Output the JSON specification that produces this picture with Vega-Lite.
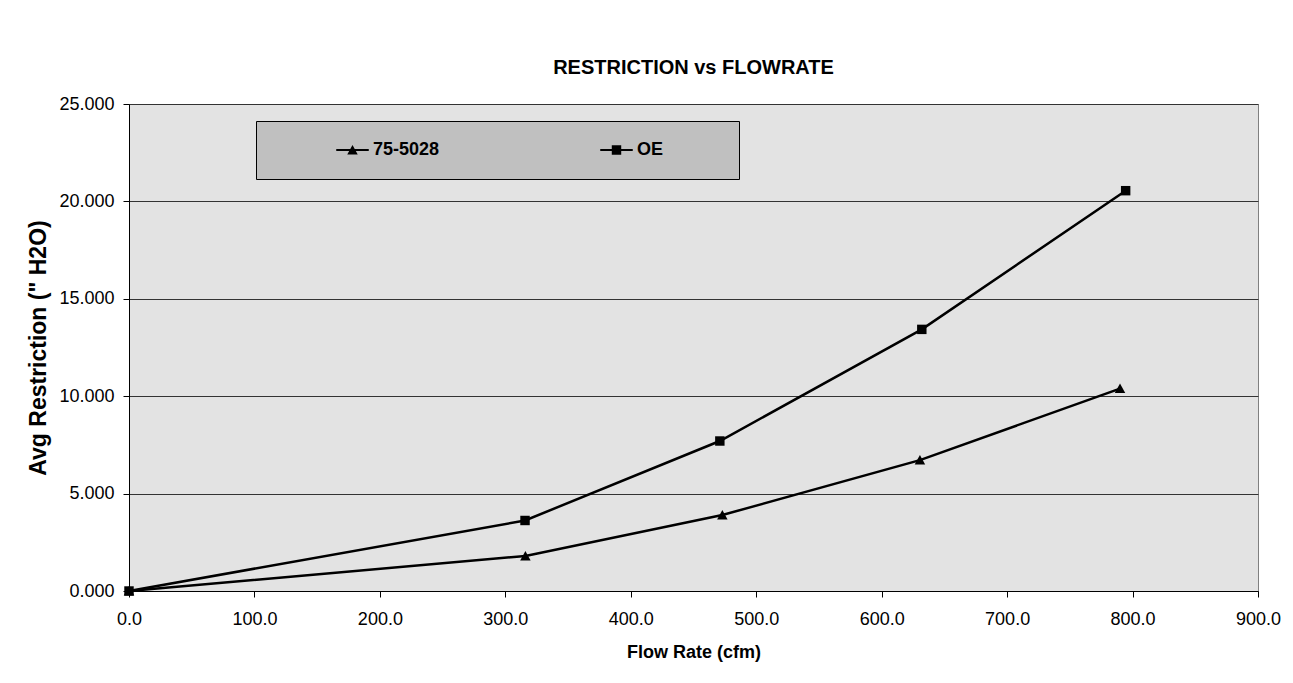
{
  "$schema": "https://vega.github.io/schema/vega-lite/v6.json",
  "width": 1129,
  "height": 487,
  "autosize": {"type": "none"},
  "padding": {"left": 129, "top": 104, "right": 35, "bottom": 92},
  "background": "white",
  "title": {"text": "RESTRICTION vs FLOWRATE", "font": "Liberation Sans", "fontSize": 20, "fontWeight": "bold", "anchor": "middle", "offset": 17, "color": "black"},
  "data": {
    "values": [
      {"series": "75-5028", "flow": 0, "restriction": 0},
      {"series": "75-5028", "flow": 316, "restriction": 1.8},
      {"series": "75-5028", "flow": 473, "restriction": 3.9},
      {"series": "75-5028", "flow": 630.5, "restriction": 6.72},
      {"series": "75-5028", "flow": 790, "restriction": 10.39},
      {"series": "OE", "flow": 0, "restriction": 0},
      {"series": "OE", "flow": 315.7, "restriction": 3.62},
      {"series": "OE", "flow": 471, "restriction": 7.7},
      {"series": "OE", "flow": 632, "restriction": 13.43},
      {"series": "OE", "flow": 794.5, "restriction": 20.55}
    ]
  },
  "encoding": {
    "x": {
      "field": "flow", "type": "quantitative",
      "scale": {"domain": [0, 900], "nice": false},
      "axis": {"title": "Flow Rate (cfm)", "values": [0, 100, 200, 300, 400, 500, 600, 700, 800, 900], "format": ".1f", "grid": false, "labelFlush": false, "labelPadding": 13, "titlePadding": 15}
    },
    "y": {
      "field": "restriction", "type": "quantitative",
      "scale": {"domain": [0, 25], "nice": false},
      "axis": {"title": "Avg Restriction (\" H2O)", "titleFontSize": 23, "values": [0, 5, 10, 15, 20, 25], "format": ".3f", "grid": true, "gridColor": "#333333", "gridWidth": 1, "labelFlush": false, "labelPadding": 9, "titlePadding": 8}
    }
  },
  "layer": [
    {
      "mark": {"type": "line", "color": "black", "strokeWidth": 2.5},
      "encoding": {"detail": {"field": "series", "type": "nominal"}}
    },
    {
      "mark": {"type": "point", "filled": true, "fill": "black", "opacity": 1, "strokeWidth": 0},
      "encoding": {
        "size": {"value": 110},
        "shape": {
          "field": "series", "type": "nominal",
          "scale": {"domain": ["75-5028", "OE"], "range": ["M-1,0.85L0,-0.95L1,0.85Z", "M-0.9,-0.9H0.9V0.9H-0.9Z"]},
          "legend": null
        }
      }
    },
    {
      "mark": {"type": "point", "filled": true, "fill": "black", "opacity": 0, "strokeWidth": 0},
      "encoding": {
        "size": {"value": 110},
        "shape": {
          "field": "series", "type": "nominal",
          "scale": {"domain": ["75-5028", "OE"], "range": ["M-3.1,-0.2H3.1V0.2H-3.1ZM-1,0.85L0,-0.95L1,0.85Z", "M-3.1,-0.2H3.1V0.2H-3.1ZM-0.9,-0.9H0.9V0.9H-0.9ZM19.45,0"]},
          "legend": {
            "title": null,
            "orient": "none",
            "legendX": 127,
            "legendY": 17,
            "direction": "horizontal",
            "fillColor": "#c0c0c0",
            "strokeColor": "#000000",
            "padding": 20,
            "labelFont": "Liberation Sans",
            "labelFontSize": 18,
            "labelFontWeight": "bold",
            "labelColor": "black",
            "symbolSize": 110,
            "symbolStrokeWidth": 0,
            "symbolFillColor": "black",
            "symbolOpacity": 1,
            "symbolOffset": 67.5,
            "labelOffset": 11.5,
            "columnPadding": 100
          }
        }
      }
    }
  ],
  "resolve": {"scale": {"shape": "independent"}, "legend": {"shape": "independent"}},
  "config": {
    "view": {"fill": "#e3e3e3", "stroke": "#808080", "strokeWidth": 1},
    "axis": {
      "domainColor": "#000000",
      "domainWidth": 1,
      "tickColor": "#000000",
      "tickSize": 6,
      "labelFont": "Liberation Sans",
      "labelFontSize": 18,
      "labelColor": "#000000",
      "titleFont": "Liberation Sans",
      "titleFontSize": 18,
      "titleFontWeight": "bold",
      "titleColor": "#000000"
    }
  }
}
